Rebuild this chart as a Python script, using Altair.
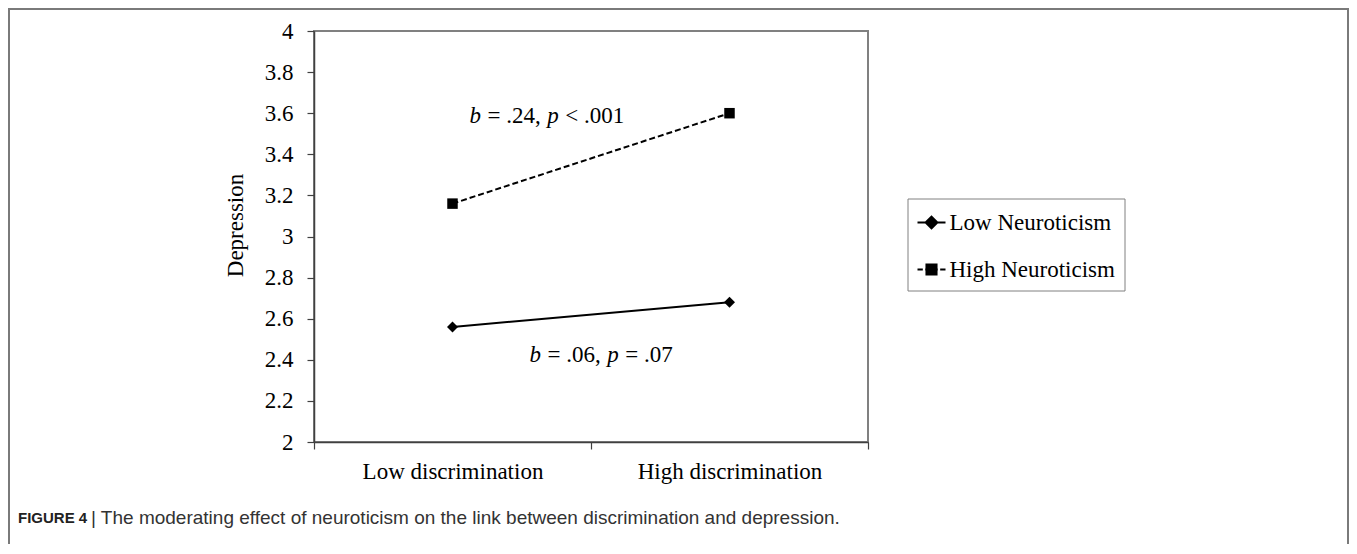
import altair as alt
import pandas as pd

# ---------------- data ----------------
categories = ["Low discrimination", "High discrimination"]
series = ["Low Neuroticism", "High Neuroticism"]
low_neuroticism = [2.56, 2.68]
high_neuroticism = [3.16, 3.60]
y_ticks = [2.0, 2.2, 2.4, 2.6, 2.8, 3.0, 3.2, 3.4, 3.6, 3.8, 4.0]
annot_y = [3.55, 2.39]
annot_b = ["= .24,", "= .06,"]
annot_p = ["< .001", "= .07"]
caption_bold = "FIGURE 4"
caption_text = "| The moderating effect of neuroticism on the link between discrimination and depression."

rows = []
for s, vals in zip(series, [low_neuroticism, high_neuroticism]):
    for c, v in zip(categories, vals):
        rows.append({"discrimination": c, "group": s, "depression": v})
df = pd.DataFrame(rows)

W, H = 554, 411
SERIF = "Liberation Serif"
SANS = "Liberation Sans"
FS = 23

x_enc = alt.X(
    "discrimination:N",
    sort=categories,
    scale=alt.Scale(type="band", domain=categories, paddingInner=0, paddingOuter=0),
    axis=alt.Axis(title=None, labelAngle=0, tickBand="extent", tickSize=7,
                  labelPadding=11, labelFontSize=FS, labelLimit=0),
)
y_enc = alt.Y(
    "depression:Q",
    scale=alt.Scale(domain=[2, 4], nice=False, zero=False),
    axis=alt.Axis(values=y_ticks, format="~g", title="Depression", tickSize=7,
                  labelPadding=14, labelFontSize=FS, titlePadding=17, titleFontSize=FS,
                  titleY=194),
)

line_low = alt.Chart(df).transform_filter(alt.datum.group == series[0]).mark_line(
    color="black", strokeWidth=2
).encode(x=x_enc, y=y_enc)
line_high = alt.Chart(df).transform_filter(alt.datum.group == series[1]).mark_line(
    color="black", strokeWidth=2, strokeDash=[6, 3]
).encode(x=x_enc, y=y_enc)

pts_low = alt.Chart(df).transform_filter(alt.datum.group == series[0]).mark_point(
    shape="diamond", filled=True, size=120, color="black", opacity=1
).encode(x=x_enc, y=y_enc)

pts_high = alt.Chart(df).transform_filter(alt.datum.group == series[1]).mark_point(
    shape="square", filled=True, size=110, color="black", opacity=1
).encode(x=x_enc, y=y_enc)

# legend glyphs: line + marker (marker drawn as nested outlines so it reads as solid)
def diamond(r):
    return f"M{-r},0L0,{-r}L{r},0L0,{r}Z"

def square(r):
    return f"M{-r},{-r}L{r},{-r}L{r},{r}L{-r},{r}Z"

legend_paths = [
    "M-1,0L1,0" + "".join(diamond(r) for r in [0.42, 0.31, 0.2, 0.1, 0.03]),
    "M-1,0L-0.62,0M-0.45,0L-0.36,0M0.36,0L0.45,0M0.62,0L1,0"
    + "".join(square(r) for r in [0.36, 0.25, 0.14, 0.04]),
]
legend_layer = alt.Chart(df).mark_point(
    filled=False, color="black", size=784, opacity=0, strokeWidth=2
).encode(
    x=x_enc, y=y_enc,
    shape=alt.Shape(
        "group:N",
        sort=series,
        scale=alt.Scale(domain=series, range=legend_paths),
        legend=alt.Legend(
            title=None, orient="none", legendX=593.5, legendY=167.5,
            labelFont=SERIF, labelFontSize=FS, labelColor="black", labelOffset=3,
            labelLimit=0,
            symbolSize=784, symbolStrokeWidth=2, symbolStrokeColor="black",
            symbolOpacity=1, rowPadding=20,
            strokeColor="#808080", fillColor="white", padding=9,
        ),
    ),
)

# annotations
ann_df = pd.DataFrame({
    "discrimination": [categories[0], categories[0]],
    "depression": annot_y,
    "bval": annot_b,
    "pval": annot_p,
})
ann_layers = []
start_dx = [17, 77]
w_b = 0.5 * FS
sp = 6.5
w_mid = 2.314 * FS
for i in range(2):
    sub = alt.Chart(ann_df.iloc[[i]])
    base_dx = start_dx[i]
    common = dict(font=SERIF, fontSize=FS, align="left", baseline="alphabetic", color="black")
    ann_layers.append(sub.mark_text(text="b", fontStyle="italic", dx=base_dx, **common).encode(x=x_enc, y=y_enc))
    ann_layers.append(sub.mark_text(dx=base_dx + w_b + sp, **common).encode(x=x_enc, y=y_enc, text="bval:N"))
    ann_layers.append(sub.mark_text(text="p", fontStyle="italic", dx=base_dx + w_b + sp + w_mid + sp, **common).encode(x=x_enc, y=y_enc))
    ann_layers.append(sub.mark_text(dx=base_dx + 2 * w_b + 3 * sp + w_mid, **common).encode(x=x_enc, y=y_enc, text="pval:N"))

one = alt.Data(values=[{"k": 1}])
frame = alt.Chart(one).mark_rect(fill=None, stroke="#7a7a7a", strokeWidth=2).encode(
    x=alt.value(-305), x2=alt.value(1034), y=alt.value(-22), y2=alt.value(540)
)
cap1 = alt.Chart(one).mark_text(text=caption_bold, font=SANS, fontSize=15, fontWeight="bold",
                                align="left", baseline="middle", color="#222").encode(
    x=alt.value(-296), y=alt.value(486.5))
cap2 = alt.Chart(one).mark_text(text=caption_text, font=SANS, fontSize=19,
                                align="left", baseline="middle", color="#333").encode(
    x=alt.value(-223), y=alt.value(486.5))

chart = alt.layer(frame, line_low, line_high, pts_low, pts_high, legend_layer, *ann_layers, cap1, cap2).properties(
    width=W, height=H,
    padding={"left": 306, "top": 23, "right": 481, "bottom": 102},
    autosize=alt.AutoSizeParams(type="none"),
    background="white",
).configure_view(
    stroke="#808080", strokeWidth=2
).configure_axis(
    grid=False, domainColor="#404040", domainWidth=1.5, tickColor="#404040", tickWidth=1.2,
    labelFont=SERIF, labelColor="black", titleFont=SERIF, titleColor="black",
    titleFontWeight="normal",
)

chart.save("out.html", embed_options={"renderer": "svg", "actions": False})
